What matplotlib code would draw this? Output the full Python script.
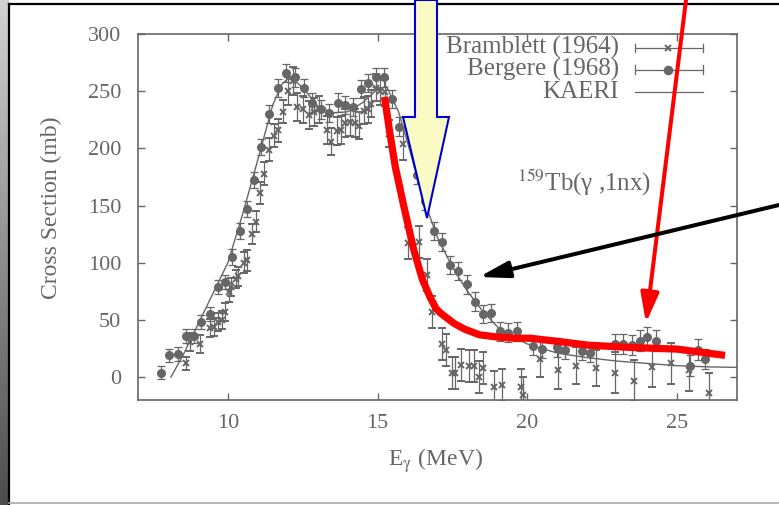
import numpy as np
import matplotlib
matplotlib.use('Agg')
import matplotlib.pyplot as plt
from matplotlib.patches import Polygon, FancyArrowPatch
from matplotlib.lines import Line2D

# Bergere (1968) - filled circles
berg_e = [7.78, 8.03, 8.32, 8.59, 8.86, 9.12, 9.39, 9.66, 9.92, 10.14,
          10.39, 10.63, 10.88, 11.12, 11.39, 11.66, 11.94, 12.23, 12.54, 12.81,
          13.10, 13.37, 13.68, 13.92, 14.17, 14.43, 14.68, 14.94, 15.20, 15.47,
          15.72, 16.30, 16.57, 16.87, 17.14, 17.42, 17.70, 17.98, 18.26, 18.53,
          18.80, 19.09, 19.37, 19.64, 20.20, 20.48, 20.98, 21.26, 21.81, 22.09,
          22.92, 23.20, 23.48, 23.76, 24.01, 24.29, 25.42, 25.70, 25.94]
berg_s = [4, 19, 20, 36, 36, 48, 55, 79, 83, 105,
          128, 147, 172, 201, 230, 253, 266, 262, 253, 240,
          234, 231, 240, 238, 236, 252, 257, 262, 262, 243,
          219, 177, 154, 128, 118, 98, 93, 81, 66, 55,
          56, 40, 39, 40, 27, 25, 26, 24, 23, 21,
          29, 29, 28, 32, 35, 32, 10, 24, 16]
berg_err = [6, 6, 6, 6, 6, 6, 6, 6, 6, 7,
            7, 7, 7, 7, 8, 8, 8, 8, 8, 8,
            8, 8, 8, 8, 8, 8, 8, 8, 8, 8,
            8, 8, 8, 8, 8, 8, 8, 8, 8, 8,
            8, 8, 8, 8, 8, 8, 8, 8, 8, 8,
            9, 9, 9, 9, 9, 9, 9, 9, 9]

# Bramblett (1964) - crosses
bram_e = [8.59, 8.72, 9.06, 9.39, 9.53, 9.68, 9.79, 9.92, 10.03, 10.09,
          10.26, 10.34, 10.53, 10.64, 10.79, 10.94, 11.07, 11.22, 11.37, 11.53,
          11.68, 11.83, 12.01, 12.18, 12.31, 12.50, 12.70, 12.88, 13.06, 13.31,
          13.46, 13.64, 13.79, 13.92, 14.09, 14.23, 14.37, 14.53, 14.68, 14.79,
          14.94, 15.09, 15.26, 15.37, 15.85, 16.01, 16.37, 16.64, 16.81, 17.14,
          17.30, 17.50, 17.60, 17.80, 18.06, 18.22, 18.39, 18.53, 18.88, 19.17,
          19.80, 19.87, 20.43, 21.04, 21.63, 22.29, 22.92, 23.56, 24.17, 24.81,
          25.40, 26.07]
bram_s = [12, 31, 29, 43, 44, 48, 50, 57, 74, 79,
          86, 88, 100, 102, 125, 136, 161, 178, 199, 211,
          216, 232, 250, 259, 236, 234, 229, 232, 234, 216,
          206, 215, 216, 222, 223, 222, 220, 233, 234, 239,
          253, 250, 249, 213, 204, 117, 118, 89, 57, 29,
          24, 4, 4, 11, 10, 10, 0, 8, -9, -7,
          -9, -16, 16, 6, 10, 8, 4, -3, 9, 12,
          6, -14]
bram_err = [6, 8, 8, 8, 8, 8, 8, 8, 8, 8,
            8, 8, 9, 9, 9, 9, 10, 10, 10, 10,
            10, 10, 12, 12, 12, 12, 12, 12, 12, 12,
            12, 12, 12, 12, 12, 12, 12, 12, 12, 12,
            12, 12, 12, 12, 14, 14, 14, 14, 14, 14,
            14, 14, 14, 14, 14, 14, 14, 14, 14, 14,
            16, 16, 16, 16, 16, 16, 18, 18, 18, 18,
            18, 18]

# KAERI evaluation curve
kaeri_e = [8.1, 8.5, 9.0, 9.5, 10.0, 10.5, 11.0, 11.5, 11.8, 12.0,
           12.3, 12.6, 13.0, 13.5, 14.0, 14.5, 15.0, 15.3, 15.7, 16.0,
           16.5, 17.0, 17.5, 18.0, 18.5, 19.0, 19.5, 20.0, 21.0, 22.0,
           23.0, 24.0, 25.0, 26.0, 27.0]
kaeri_s = [0, 19, 46, 73, 100, 143, 190, 238, 256, 261,
           258, 250, 237, 231, 232, 240, 252, 254, 232, 205,
           158, 122, 96, 75, 58, 44, 35, 29, 21, 17,
           14, 12, 10, 9, 8.5]

# hand-drawn red trace over the plot
red_e = [15.23, 15.40, 15.59, 15.87, 16.20, 16.50, 16.75, 16.95, 17.10, 17.30,
         17.55, 17.90, 18.40, 19.00, 19.60, 20.10, 21.10, 22.00, 23.40, 25.00,
         26.60]
red_s = [245, 215, 184, 150, 112, 85, 70, 60, 56, 52,
         47, 42, 37, 35, 34, 34, 31, 28, 26, 24.5,
         19]

x_ticks = [10, 15, 20, 25]
y_ticks = [0, 50, 100, 150, 200, 250, 300]

W, H = 779, 505
gray = '#666666'
plt.rcParams['font.family'] = ['Liberation Serif', 'DejaVu Serif']
plt.rcParams['mathtext.fontset'] = 'stix'


def px(x, y):
    return (x / W, 1 - y / H)


fig = plt.figure(figsize=(W / 100, H / 100), dpi=100)
fig.patch.set_facecolor('white')

# left grey strip of the screenshot
strip = fig.add_axes([0, 0, 9 / W, 1])
strip.imshow(np.linspace(0.82, 0.3, 100).reshape(-1, 1), cmap='gray',
             vmin=0, vmax=1, aspect='auto')
strip.axis('off')

ax = fig.add_axes([138 / W, 1 - 400 / H, 599 / W, 366 / H])
ax.errorbar(bram_e, bram_s, yerr=bram_err, fmt='x', color=gray, ms=4, mew=1.4,
            elinewidth=0.9, capsize=3, capthick=0.9)
ax.errorbar(berg_e, berg_s, yerr=berg_err, fmt='o', color=gray, ms=5.5,
            elinewidth=0.9, capsize=3, capthick=0.9)
ax.plot(kaeri_e, kaeri_s, color=gray, lw=1.0)
ax.plot(red_e, red_s, color='#ff0000', lw=5.2, solid_capstyle='butt',
        solid_joinstyle='round', zorder=5)

ax.set_xlim(7, 27)
ax.set_ylim(-20, 300)
ax.set_xticks(x_ticks)
ax.set_yticks(y_ticks)
ax.tick_params(direction='in', top=True, right=True, length=5, width=1,
               color=gray, labelcolor=gray, labelsize=16)
ax.tick_params(axis='y', pad=12)
ax.tick_params(axis='x', pad=10)
for s in ax.spines.values():
    s.set_color(gray)
    s.set_linewidth(1.2)

ax.set_xlabel(r'E$_{\mathrm{γ}}$ (MeV)', fontsize=17, color=gray)
ax.xaxis.set_label_coords(0.497, -0.125)
ax.set_ylabel('Cross Section (mb)', fontsize=17, color=gray)
ax.yaxis.set_label_coords(-0.127, 0.525)

# gnuplot style key
key = [('Bramblett (1964)', 0.962, 'x'), ('Bergere (1968)', 0.902, 'o'), ('KAERI', 0.842, None)]
for label, ky, mk in key:
    ax.text(0.803, ky, label, transform=ax.transAxes, ha='right', va='center',
            fontsize=18, color=gray)
    ax.plot([0.83, 0.943], [ky, ky], transform=ax.transAxes, color=gray, lw=0.9)
    if mk is not None:
        ax.plot([0.83, 0.83], [ky - 0.012, ky + 0.012], transform=ax.transAxes, color=gray, lw=0.9)
        ax.plot([0.943, 0.943], [ky - 0.012, ky + 0.012], transform=ax.transAxes, color=gray, lw=0.9)
        ax.plot([0.885], [ky], mk, transform=ax.transAxes, color=gray,
                ms=4 if mk == 'x' else 5.5, mew=1.4)

ax.text(0.633, 0.593, r'$^{159}$Tb(γ ,1nx)', transform=ax.transAxes,
        ha='left', va='center', fontsize=18, color=gray)

# screenshot frame
fig.add_artist(Line2D([9 / W, 1], [1 - 4 / H, 1 - 4 / H], color='black', lw=1.6))
fig.add_artist(Line2D([9 / W, 9 / W], [0, 1 - 4 / H], color='black', lw=1.6))
fig.add_artist(Line2D([9 / W, 1], [1 - 503 / H, 1 - 503 / H], color='#aaaaaa', lw=1.2))

# yellow block arrow
yellow = [(415, 0), (437, 0), (437, 117), (449, 117), (427, 218), (403, 117), (415, 117)]
fig.add_artist(Polygon([px(x, y) for x, y in yellow], closed=True,
                       transform=fig.transFigure, facecolor='#fafac4',
                       edgecolor='#0000cc', lw=1.5, zorder=10))

# red arrow
fig.add_artist(FancyArrowPatch(px(686, 0), px(646, 323), transform=fig.transFigure,
                               arrowstyle='-|>,head_length=1.8,head_width=0.55',
                               mutation_scale=10, color='#ff0000', lw=2.9,
                               shrinkA=0, shrinkB=0, zorder=10))

# black arrow
fig.add_artist(FancyArrowPatch(px(779, 205), px(479, 277), transform=fig.transFigure,
                               arrowstyle='-|>,head_length=1.8,head_width=0.5',
                               mutation_scale=10, color='black', lw=2.9,
                               shrinkA=0, shrinkB=0, zorder=10))

plt.savefig('out.png', dpi=100)
